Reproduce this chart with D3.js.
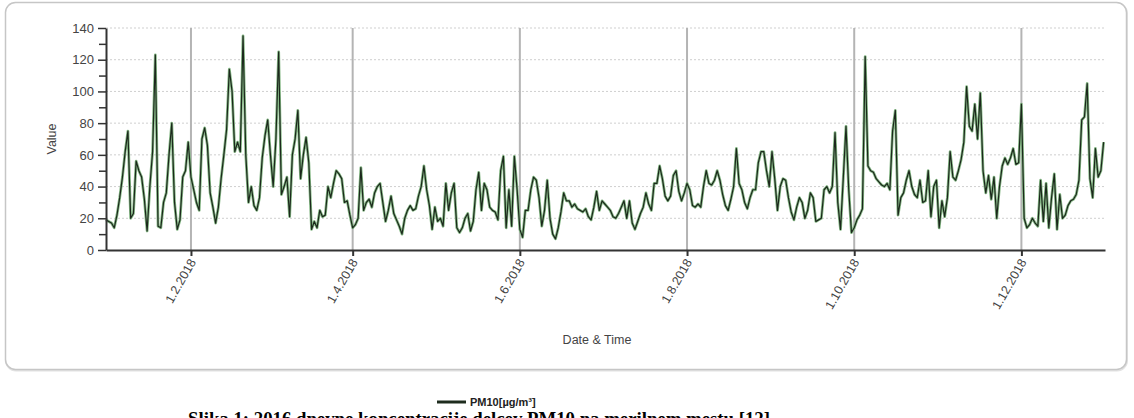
<!DOCTYPE html>
<html>
<head>
<meta charset="utf-8">
<script src="https://cdn.jsdelivr.net/npm/d3@7"></script>
<style>
  body { margin: 0; background: #fff; }
  svg { font-family: "Liberation Sans", Arial, sans-serif; }
</style>
</head>
<body>
<svg id="chart" width="1134" height="418"></svg>
<script>
// daily PM10 values, 1.1.2018 .. 31.12.2018
const startDay = "2018-01-01";
const pm10 = [
  19,18,17,14,22,33,46,62,75,20,
  23,56,50,46,32,12,40,62,123,15,
  14,30,36,60,80,30,13,19,46,50,
  68,46,38,30,25,70,77,66,36,27,
  17,27,45,60,76,114,100,62,68,62,
  135,60,30,40,28,25,33,58,72,82,
  60,40,70,125,35,40,46,21,60,70,
  88,45,60,71,55,13,18,14,25,21,
  22,40,33,42,50,48,45,30,31,22,
  14,16,20,52,25,30,32,27,36,40,
  42,30,18,25,34,23,19,15,10,20,
  25,28,25,26,34,40,53,38,28,13,
  27,18,20,15,42,25,36,42,14,11,
  14,20,23,12,18,38,49,25,42,38,
  27,25,24,19,50,59,14,38,15,59,
  38,13,8,25,25,38,46,44,33,15,
  25,44,20,10,7,14,24,36,31,31,
  27,29,26,25,24,26,21,19,27,37,
  25,31,29,27,25,21,20,23,27,31,
  20,31,17,13,18,23,27,36,29,25,
  42,42,53,45,34,31,34,47,50,37,
  31,36,42,38,28,27,29,27,40,50,
  42,41,44,50,44,35,28,25,32,40,
  64,42,38,30,26,33,38,38,55,62,
  62,50,40,62,45,25,40,45,44,33,
  24,19,27,33,30,20,25,36,33,18,
  19,20,38,40,36,40,74,30,13,45,
  78,38,11,14,19,22,26,122,53,50,
  49,45,43,41,40,42,38,75,88,22,
  33,36,44,50,40,35,33,44,30,31,
  50,21,40,44,14,31,21,33,62,46,
  44,50,57,68,103,78,75,92,70,99,
  50,36,47,32,46,20,40,53,58,54,
  58,64,54,55,92,20,14,16,20,17,
  15,44,18,42,14,33,48,13,35,20,
  22,28,31,32,35,44,82,84,105,45,
  33,64,46,50,68
];

const yTicks = [0, 20, 40, 60, 80, 100, 120, 140];
const xTickDates = ["2018-02-01", "2018-04-01", "2018-06-01", "2018-08-01", "2018-10-01", "2018-12-01"];
const xTickLabels = ["1.2.2018", "1.4.2018", "1.6.2018", "1.8.2018", "1.10.2018", "1.12.2018"];
const seriesName = "PM10[µg/m³]";
const caption = "Slika 1: 2016 dnevne koncentracije delcev PM10 na merilnem mestu [12]";

const parse = d3.utcParse("%Y-%m-%d");
const t0 = parse(startDay);
const data = pm10.map((v, i) => ({ date: d3.utcDay.offset(t0, i), value: v }));
const tickDates = xTickDates.map(parse);

const svg = d3.select("#chart");

// panel
svg.append("rect")
  .attr("x", 6).attr("y", 3.5)
  .attr("width", 1121).attr("height", 367)
  .attr("rx", 10)
  .attr("fill", "none")
  .attr("stroke", "#e2e2e2")
  .attr("stroke-width", 2);
svg.append("rect")
  .attr("x", 5.5).attr("y", 2.5)
  .attr("width", 1121).attr("height", 367)
  .attr("rx", 10)
  .attr("fill", "#fff")
  .attr("stroke", "#c6c6c6")
  .attr("stroke-width", 1.5);

const plot = { left: 106, right: 1105, top: 28, bottom: 250 };

const x = d3.scaleUtc()
  .domain([t0, d3.utcHour.offset(parse("2018-12-31"), 12)])
  .range([plot.left, plot.right]);

const y = d3.scaleLinear()
  .domain([0, 140])
  .range([plot.bottom, plot.top]);

// horizontal grid (dotted)
svg.append("g")
  .selectAll("line")
  .data(yTicks.filter(d => d > 0))
  .join("line")
    .attr("x1", plot.left).attr("x2", plot.right)
    .attr("y1", d => y(d)).attr("y2", d => y(d))
    .attr("stroke", "#cfcfcf")
    .attr("stroke-dasharray", "2,2");

// vertical grid
svg.append("g")
  .selectAll("line")
  .data(tickDates)
  .join("line")
    .attr("x1", d => x(d)).attr("x2", d => x(d))
    .attr("y1", plot.top).attr("y2", plot.bottom)
    .attr("stroke", "#b4b4b4")
    .attr("stroke-width", 2);

// series
const line = d3.line()
  .x(d => x(d.date))
  .y(d => y(d.value));

svg.append("path")
  .datum(data)
  .attr("fill", "none")
  .attr("stroke", "#86b886")
  .attr("stroke-width", 2.8)
  .attr("stroke-linejoin", "round")
  .attr("d", line);

svg.append("path")
  .datum(data)
  .attr("fill", "none")
  .attr("stroke", "#1c281c")
  .attr("stroke-width", 1.2)
  .attr("stroke-linejoin", "round")
  .attr("d", line);

// y axis with minor ticks every 10
const yMinor = d3.range(10, 140, 20);
svg.append("g")
  .attr("transform", `translate(${plot.left},0)`)
  .call(d3.axisLeft(y).tickValues(yMinor).tickSize(7).tickFormat(""))
  .call(g => g.select(".domain").remove())
  .call(g => g.selectAll("line").attr("stroke", "#333").attr("stroke-width", 1.5));

svg.append("g")
  .attr("transform", `translate(${plot.left},0)`)
  .call(d3.axisLeft(y).tickValues(yTicks).tickSize(8).tickPadding(4).tickSizeOuter(0))
  .call(g => g.select(".domain").attr("stroke", "#333").attr("stroke-width", 2))
  .call(g => g.selectAll("line").attr("stroke", "#333").attr("stroke-width", 1.5))
  .call(g => g.selectAll("text").attr("fill", "#444").style("font-size", "13px"));

// x axis
svg.append("g")
  .attr("transform", `translate(0,${plot.bottom})`)
  .call(d3.axisBottom(x).tickValues(tickDates).tickSize(6).tickSizeOuter(0)
    .tickFormat((d, i) => xTickLabels[i]))
  .call(g => g.select(".domain").attr("stroke", "#333").attr("stroke-width", 2))
  .call(g => g.selectAll("line").attr("stroke", "#333").attr("stroke-width", 2))
  .call(g => g.selectAll("text")
    .attr("fill", "#444")
    .style("font-size", "12.5px")
    .attr("text-anchor", "end")
    .attr("y", 0).attr("dy", 0)
    .attr("transform", "translate(5,12) rotate(-60)"));

// axis titles
svg.append("text")
  .attr("transform", `translate(56,${(plot.top + plot.bottom) / 2}) rotate(-90)`)
  .attr("text-anchor", "middle")
  .attr("fill", "#444")
  .style("font-size", "12.5px")
  .text("Value");

svg.append("text")
  .attr("x", 597).attr("y", 344)
  .attr("text-anchor", "middle")
  .attr("fill", "#444")
  .style("font-size", "12.5px")
  .text("Date & Time");

// legend
svg.append("line")
  .attr("x1", 437).attr("x2", 466)
  .attr("y1", 402).attr("y2", 402)
  .attr("stroke", "#1e2c1e")
  .attr("stroke-width", 3);

svg.append("text")
  .attr("x", 470).attr("y", 406)
  .attr("fill", "#222")
  .style("font-size", "11px")
  .style("font-weight", "bold")
  .text(seriesName);

// caption (bottom half falls below the page, as in the source image)
svg.append("text")
  .attr("x", 188).attr("y", 425)
  .attr("fill", "#000")
  .attr("textLength", 582)
  .attr("lengthAdjust", "spacingAndGlyphs")
  .style("font-family", "'Liberation Serif', 'Times New Roman', serif")
  .style("font-size", "18px")
  .style("font-weight", "bold")
  .text(caption);
</script>
</body>
</html>
